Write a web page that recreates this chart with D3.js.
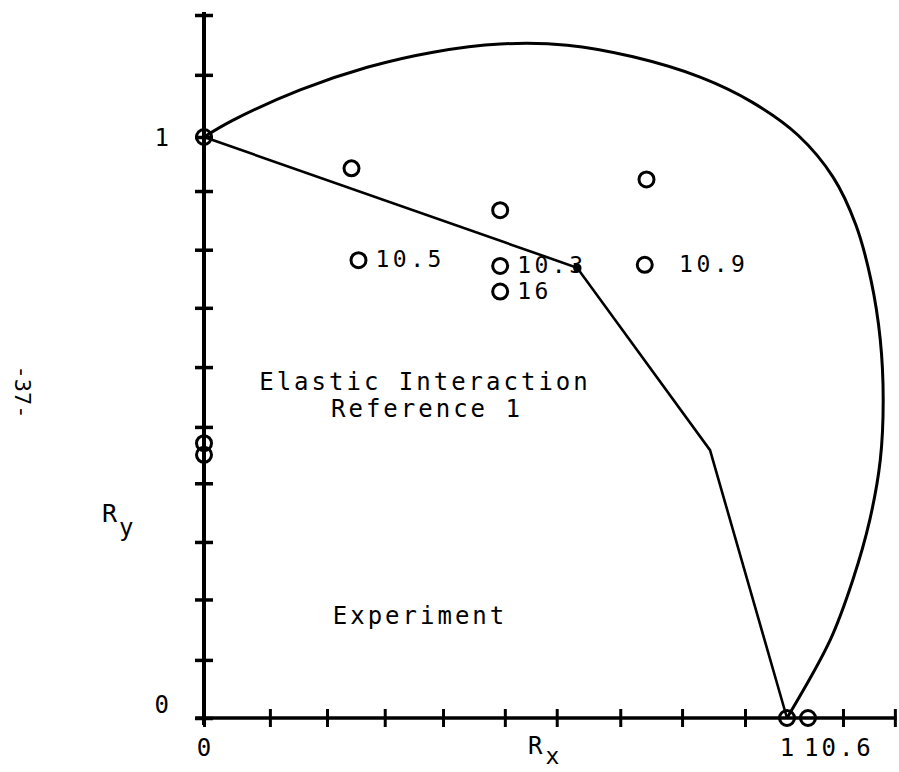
<!DOCTYPE html>
<html>
<head>
<meta charset="utf-8">
<script src="https://cdn.jsdelivr.net/npm/d3@7"></script>
<style>
  body { margin: 0; background: #fff; }
  svg text { font-family: "DejaVu Sans Mono", monospace; fill: #000; white-space: pre; }
</style>
</head>
<body>
<svg id="chart" width="899" height="772"></svg>
<script>
// Elastic interaction envelope (Reference 1)
const envelopeRx = [0, 0.050, 0.165, 0.280, 0.393, 0.508, 0.623, 0.736, 0.851, 0.940, 1.019, 1.079, 1.118, 1.144, 1.160, 1.165, 1.160, 1.142, 1.113, 1.074, 1.0];
const envelopeRy = [1.0, 1.029, 1.081, 1.120, 1.146, 1.160, 1.158, 1.138, 1.103, 1.060, 1.003, 0.931, 0.849, 0.754, 0.651, 0.547, 0.444, 0.341, 0.238, 0.134, 0];

// Experiment polyline
const experimentRx = [0, 0.640, 0.868, 1.0];
const experimentRy = [1.0, 0.775, 0.461, 0];

// Measured points and their labels
const pointRx = [0, 0, 0, 0.253, 0.508, 0.759, 0.265, 0.508, 0.508, 0.756, 1.0, 1.036];
const pointRy = [1.0, 0.473, 0.453, 0.946, 0.874, 0.927, 0.788, 0.778, 0.734, 0.780, 0, 0];
const pointLabels = ["", "", "", "", "", "", "10.5", "10.3", "16", " 10.9", "", "10.6"];

// Axis ticks
const xTickValues = [0, 0.113, 0.211, 0.310, 0.410, 0.516, 0.605, 0.714, 0.820, 0.928, 1.096, 1.185];
const yTickValues = [0, 0.100, 0.204, 0.303, 0.404, 0.501, 0.604, 0.706, 0.806, 0.907, 1.0, 1.107, 1.21];
const xTickLabelValues = [0, 1];
const xTickLabels = ["0", "1"];
const yTickLabelValues = [0, 1];
const yTickLabels = ["0", "1"];

const svg = d3.select("#chart");
const x = d3.scaleLinear().domain([0, 1]).range([204, 787]);
const y = d3.scaleLinear().domain([0, 1]).range([718, 137]);

// Axis lines
svg.append("line")
  .attr("x1", x(0)).attr("x2", x(0))
  .attr("y1", y(1.215)).attr("y2", y(-0.012))
  .attr("stroke", "#000").attr("stroke-width", 4);
svg.append("line")
  .attr("x1", x(-0.015)).attr("x2", x(1.188))
  .attr("y1", y(0)).attr("y2", y(0))
  .attr("stroke", "#000").attr("stroke-width", 3.5);

// Tick marks crossing the axes
const xAxis = d3.axisBottom(x).tickValues(xTickValues).tickSize(0).tickFormat("");
const gx = svg.append("g").attr("transform", `translate(0,${y(0)})`).call(xAxis);
gx.select(".domain").remove();
gx.selectAll(".tick line").attr("y1", -9).attr("y2", 9).attr("stroke", "#000").attr("stroke-width", 3);

const yAxis = d3.axisLeft(y).tickValues(yTickValues).tickSize(0).tickFormat("");
const gy = svg.append("g").attr("transform", `translate(${x(0)},0)`).call(yAxis);
gy.select(".domain").remove();
gy.selectAll(".tick line").attr("x1", -9).attr("x2", 9).attr("stroke", "#000").attr("stroke-width", 3.5);

// Tick labels
svg.selectAll("text.xlab").data(xTickLabelValues).join("text")
  .attr("class", "xlab")
  .attr("x", d => x(d)).attr("y", y(0) + 38)
  .attr("text-anchor", "middle")
  .attr("font-size", 24)
  .text((d, i) => xTickLabels[i]);
svg.selectAll("text.ylab").data(yTickLabelValues).join("text")
  .attr("class", "ylab")
  .attr("x", x(0) - 35).attr("y", d => d === 0 ? y(d) - 5 : y(d) + 9)
  .attr("text-anchor", "end")
  .attr("font-size", 24)
  .text((d, i) => yTickLabels[i]);

// Axis titles
const rx = svg.append("text").attr("x", 528).attr("y", 754).attr("font-size", 24);
rx.append("tspan").text("R");
rx.append("tspan").attr("dx", 3).attr("dy", 10).attr("font-size", 23).text("x");
const ry = svg.append("text").attr("x", 102).attr("y", 522).attr("font-size", 25);
ry.append("tspan").text("R");
ry.append("tspan").attr("dx", 2).attr("dy", 14).attr("font-size", 24).text("y");

// Page number
svg.append("text")
  .attr("transform", "translate(15,392) rotate(90)")
  .attr("text-anchor", "middle")
  .attr("font-size", 22)
  .text("-37-");

// Envelope curve
const envelope = envelopeRx.map((d, i) => [d, envelopeRy[i]]);
svg.append("path")
  .attr("d", d3.line().x(d => x(d[0])).y(d => y(d[1])).curve(d3.curveCatmullRom)(envelope))
  .attr("fill", "none").attr("stroke", "#000").attr("stroke-width", 3);

// Experiment polyline
const experiment = experimentRx.map((d, i) => [d, experimentRy[i]]);
svg.append("path")
  .attr("d", d3.line().x(d => x(d[0])).y(d => y(d[1])).curve(d3.curveLinear)(experiment))
  .attr("fill", "none").attr("stroke", "#000").attr("stroke-width", 2.6);
svg.append("circle")
  .attr("cx", x(experimentRx[1])).attr("cy", y(experimentRy[1]))
  .attr("r", 4).attr("fill", "#000");

// Measured points
const pts = pointRx.map((d, i) => ({ rx: d, ry: pointRy[i], label: pointLabels[i] }));
svg.selectAll("circle.pt").data(pts).join("circle")
  .attr("class", "pt")
  .attr("cx", d => x(d.rx)).attr("cy", d => y(d.ry))
  .attr("r", 7.5).attr("fill", "none").attr("stroke", "#000").attr("stroke-width", 3);

// Point labels (the one on the axis sits below it)
svg.selectAll("text.ptlab").data(pts.filter(d => d.label && d.ry > 0)).join("text")
  .attr("class", "ptlab")
  .attr("x", d => x(d.rx) + 17).attr("y", d => y(d.ry) + 7)
  .attr("font-size", 23).attr("letter-spacing", 3.5)
  .text(d => d.label);
svg.selectAll("text.axlab").data(pts.filter(d => d.label && d.ry === 0)).join("text")
  .attr("class", "axlab")
  .attr("x", d => x(d.rx) - 4).attr("y", y(0) + 38)
  .attr("font-size", 24).attr("letter-spacing", 3)
  .text(d => d.label);

// Region captions
svg.append("text").attr("x", 425).attr("y", 390)
  .attr("text-anchor", "middle").attr("font-size", 24).attr("letter-spacing", 3)
  .text("Elastic Interaction");
svg.append("text").attr("x", 427).attr("y", 417)
  .attr("text-anchor", "middle").attr("font-size", 24).attr("letter-spacing", 3)
  .text("Reference 1");
svg.append("text").attr("x", 420).attr("y", 624)
  .attr("text-anchor", "middle").attr("font-size", 24).attr("letter-spacing", 3)
  .text("Experiment");
</script>
</body>
</html>
